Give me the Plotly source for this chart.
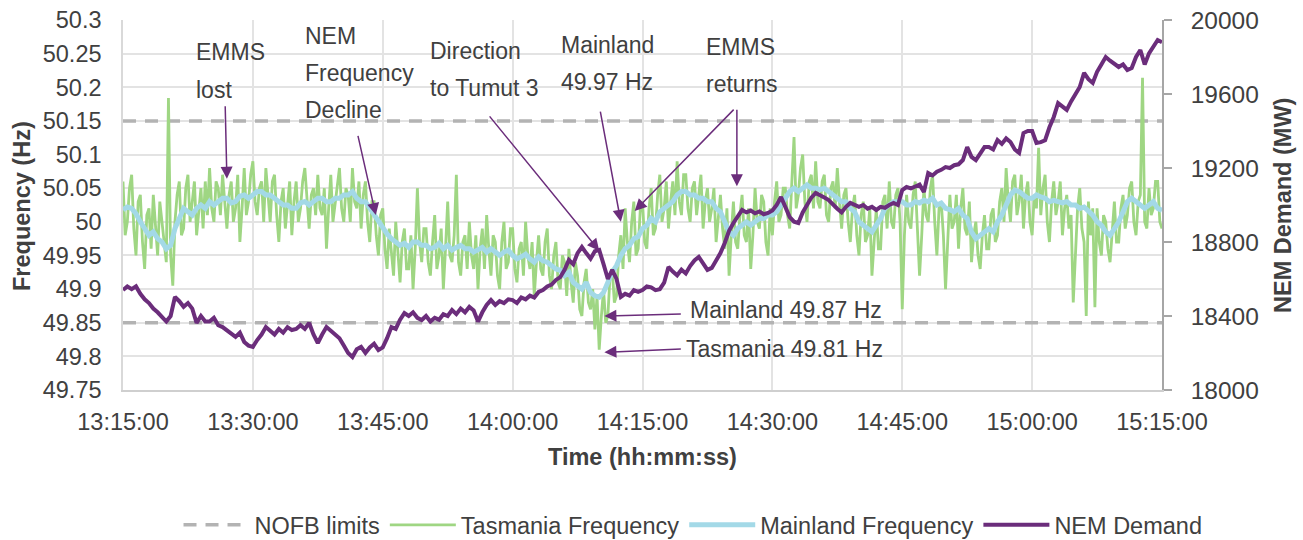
import pandas as pd
import plotly.graph_objects as go

# ---------------- data, 13:15:00 -> 15:15:00 ----------------
start_time = "2018-08-25 13:15:00"
time_30s = pd.date_range(start_time, periods=241, freq="30s")   # Mainland, NEM demand
time_15s = pd.date_range(start_time, periods=481, freq="15s")   # Tasmania

mainland_hz = [
    50.018, 50.022, 50.02, 50.012, 50.0, 49.99, 49.98, 49.985, 49.975, 49.97,
    49.96, 49.965, 49.99, 50.005, 50.02, 50.015, 50.01, 50.02, 50.025, 50.02,
    50.03, 50.025, 50.03, 50.035, 50.035, 50.028, 50.03, 50.038, 50.04, 50.035,
    50.04, 50.045, 50.045, 50.04, 50.04, 50.035, 50.03, 50.025, 50.025, 50.02,
    50.02, 50.028, 50.03, 50.025, 50.03, 50.035, 50.035, 50.03, 50.03, 50.035,
    50.035, 50.04, 50.04, 50.045, 50.035, 50.03, 50.03, 50.02, 50.01, 50.0,
    49.99, 49.982, 49.975, 49.97, 49.965, 49.968, 49.962, 49.97, 49.97, 49.965,
    49.965, 49.96, 49.962, 49.968, 49.96, 49.965, 49.958, 49.962, 49.965, 49.96,
    49.96, 49.955, 49.958, 49.962, 49.955, 49.96, 49.955, 49.95, 49.955, 49.958,
    49.95, 49.945, 49.948, 49.952, 49.945, 49.94, 49.948, 49.942, 49.94, 49.935,
    49.93, 49.928, 49.92, 49.925, 49.91, 49.905, 49.9, 49.91, 49.895, 49.89,
    49.888, 49.895, 49.91, 49.925, 49.935, 49.95, 49.96, 49.965, 49.975, 49.978,
    49.99, 49.995, 50.005, 50.0, 50.015, 50.02, 50.025, 50.03, 50.04, 50.045,
    50.045, 50.04, 50.04, 50.035, 50.035, 50.03, 50.03, 50.02, 50.015, 50.0,
    49.985, 49.98, 49.99, 49.995, 50.0, 49.995, 50.0, 50.005, 50.005, 50.01,
    50.01, 50.015, 50.025, 50.035, 50.045, 50.05, 50.045, 50.05, 50.055, 50.05,
    50.05, 50.048, 50.05, 50.045, 50.04, 50.035, 50.03, 50.03, 50.02, 50.015,
    50.0, 49.995, 49.99, 49.985, 49.995, 50.005, 50.02, 50.025, 50.03, 50.03,
    50.03, 50.025, 50.025, 50.03, 50.028, 50.032, 50.03, 50.035, 50.025, 50.028,
    50.02, 50.018, 50.015, 50.02, 50.01, 50.005, 49.985, 49.975, 49.98, 49.985,
    49.99, 49.985, 50.0, 50.01, 50.025, 50.04, 50.047, 50.045, 50.04, 50.035,
    50.035, 50.04, 50.037, 50.035, 50.03, 50.032, 50.03, 50.028, 50.03, 50.025,
    50.025, 50.02, 50.022, 50.015, 50.01, 50.0, 49.995, 49.985, 49.98, 49.99,
    50.0, 50.015, 50.03, 50.035, 50.03, 50.025, 50.02, 50.025, 50.03, 50.02,
    50.017,
]

tasmania_hz = [
    50.06, 49.98, 50.0, 50.05, 50.07, 49.99, 49.95, 50.03, 50.04, 49.97,
    49.93, 50.01, 50.02, 49.96, 50.04, 49.99, 49.95, 50.03, 50.0, 49.96,
    49.94, 50.184, 49.95, 49.905, 50.0, 50.04, 50.06, 49.98, 49.99, 50.05,
    50.07, 50.0, 50.03, 50.06, 49.98, 50.02, 50.05, 49.99, 50.06, 50.01,
    50.08, 50.02, 50.0, 50.06, 50.05, 50.01, 50.07, 50.03, 49.99, 50.04,
    50.06, 50.0, 50.02, 50.07, 49.97, 50.02, 50.08, 50.01, 50.03, 50.07,
    50.09, 50.03, 50.01, 50.05, 50.06, 50.0, 50.08, 50.04, 50.0, 50.06,
    50.07, 50.01, 49.97, 50.03, 50.05, 49.99, 50.02, 50.06, 49.98, 50.03,
    50.06, 50.0, 50.02, 50.06, 50.08, 50.03, 49.99, 50.04, 50.05, 50.01,
    50.07, 50.02, 50.01, 50.05, 49.96, 50.02, 50.07, 50.0, 50.03, 50.06,
    50.08, 50.02, 50.0, 50.05, 50.04, 50.0, 50.08, 50.03, 50.02, 50.06,
    49.99, 50.04, 50.06, 50.0, 49.97, 50.03, 50.03, 49.98, 49.95, 50.01,
    50.02, 49.96, 49.93, 49.99, 49.96, 49.92, 50.0, 49.95, 49.91, 49.97,
    49.99, 49.93, 49.93, 49.98, 49.9, 49.96, 50.05, 49.97, 49.94, 49.99,
    49.99, 49.94, 49.92, 49.97, 50.01, 49.93, 49.95, 49.99, 49.9, 49.96,
    50.03, 49.95, 49.94, 49.98, 50.07, 49.94, 49.92, 49.97, 49.98, 49.93,
    50.0, 49.95, 49.93, 49.98, 49.9, 49.96, 49.99, 49.93, 50.01, 49.96,
    49.92, 49.98, 49.97, 49.92, 49.9, 49.97, 50.0, 49.93, 49.94, 49.99,
    49.99, 49.93, 49.91, 49.96, 49.97, 49.92, 50.0, 49.95, 49.93, 49.97,
    49.89, 49.94, 49.98, 49.93, 49.92, 49.97, 49.99, 49.92, 49.9, 49.95,
    49.97, 49.91, 49.9, 49.95, 49.94, 49.89, 49.96, 49.91, 49.88, 49.94,
    49.92, 49.87, 49.86, 49.91, 49.93, 49.88, 49.87, 49.9, 49.84, 49.89,
    49.81, 49.86, 49.9, 49.85, 49.86, 49.92, 49.93, 49.88, 49.89, 49.95,
    49.98, 49.93, 50.02, 49.97, 49.94, 50.0, 50.03, 49.95, 49.96, 50.02,
    50.03, 49.97, 49.96, 50.02, 50.05, 49.98, 49.99, 50.04, 50.07, 50.0,
    50.02, 50.06, 49.99, 50.03, 50.06, 50.01, 50.09, 50.03, 50.01, 50.07,
    50.07, 50.02, 50.0, 50.05, 50.06, 50.01, 50.04, 50.07, 49.99, 50.03,
    50.05, 50.0, 50.02, 50.05, 49.97, 50.01, 50.04, 49.99, 49.96, 50.02,
    49.92, 49.98, 50.03, 49.97, 49.96, 50.01, 50.04, 49.98, 49.97, 50.02,
    49.93, 49.98, 50.05, 50.0, 49.99, 50.04, 50.03, 49.97, 49.95, 50.02,
    49.98, 50.03, 50.06, 50.0, 50.01, 50.05, 50.05, 50.01, 49.99, 50.06,
    50.126, 50.02, 50.04, 50.08, 50.1, 50.03, 50.0, 50.06, 50.07, 50.02,
    50.09, 50.03, 50.02, 50.06, 50.07, 50.01, 50.0, 50.05, 50.06, 50.02,
    50.08, 50.03, 49.99, 50.04, 50.05, 50.0, 49.97, 50.02, 50.04, 49.98,
    49.95, 50.01, 50.03, 49.97, 49.98, 50.02, 49.92, 49.97, 50.02, 49.96,
    49.96, 50.03, 50.04, 49.99, 50.06, 50.0, 49.99, 50.04, 50.05, 50.0,
    49.87, 49.98, 50.04, 50.0, 49.99, 50.04, 50.06, 49.99, 49.92, 49.98,
    50.05, 50.01, 50.0, 50.05, 50.07, 50.0, 49.95, 50.02, 50.03, 49.98,
    49.9, 49.97, 50.04, 49.99, 50.0, 50.04, 49.96, 50.02, 50.05, 49.99,
    49.98, 50.03, 49.94, 49.98, 50.0, 49.95, 49.93, 49.98, 50.01, 49.96,
    49.96, 50.01, 50.02, 49.97, 49.98, 50.03, 50.05, 50.0, 50.08, 50.03,
    50.0, 50.06, 50.07, 50.01, 50.03, 50.07, 49.99, 50.04, 50.06, 50.0,
    49.98, 50.04, 50.02, 50.11, 50.01, 50.05, 50.07, 50.0, 49.97, 50.03,
    50.06, 50.01, 50.03, 50.06, 49.98, 50.02, 50.04, 49.99, 50.01, 49.88,
    49.96, 50.02, 50.05, 49.99, 49.97, 49.86, 50.03, 49.98, 50.02, 49.873,
    50.02, 49.97, 49.95, 50.01, 50.0, 49.96, 49.94, 49.99, 50.03, 49.97,
    49.97, 50.02, 50.04, 49.99, 50.01, 50.05, 50.06, 50.0, 49.98, 50.03,
    50.04, 50.214, 50.0, 49.99, 50.05, 50.01, 50.02, 50.06, 50.06, 50.0,
    49.99,
]

nem_demand_mw = [
    18540, 18560, 18545, 18560, 18520, 18490, 18470, 18440, 18420, 18395,
    18370, 18400, 18503, 18480, 18450, 18470, 18440, 18362, 18400, 18370,
    18370, 18390, 18350, 18340, 18320, 18300, 18287, 18310, 18260, 18240,
    18233, 18270, 18300, 18340, 18320, 18300, 18330, 18310, 18340, 18324,
    18330, 18350, 18330, 18362, 18300, 18254, 18300, 18340, 18320, 18300,
    18280, 18240, 18200, 18178, 18220, 18233, 18200, 18230, 18250, 18216,
    18230, 18280, 18340, 18330, 18380, 18416, 18400, 18420, 18390, 18378,
    18400, 18370, 18390, 18380, 18410, 18400, 18432, 18410, 18440, 18420,
    18449, 18430, 18370, 18420, 18460, 18486, 18460, 18480, 18470, 18490,
    18486, 18470, 18500, 18490, 18510, 18500, 18530, 18540, 18560, 18570,
    18595, 18610, 18650, 18703, 18680, 18740, 18773, 18740, 18710, 18750,
    18757, 18680, 18600, 18649, 18600, 18503, 18520, 18510, 18540, 18530,
    18540, 18560, 18555, 18540, 18545, 18580, 18665, 18640, 18620, 18650,
    18630, 18670, 18700, 18719, 18680, 18649, 18660, 18700, 18740, 18795,
    18860, 18903, 18940, 18973, 18960, 18970, 18955, 18965, 18950, 18957,
    18970, 19000, 19043, 18990, 18935, 18910, 18903, 18960, 19000, 19040,
    19065, 19050, 19040, 19027, 19000, 18980, 18960, 18990, 19011, 19000,
    18990, 19000, 18980, 18990, 18973, 18990, 18985, 19000, 19011, 19000,
    19081, 19097, 19090, 19100, 19110, 19070, 19173, 19160, 19180, 19190,
    19205, 19200, 19215, 19220, 19243, 19313, 19260, 19243, 19280, 19313,
    19313, 19300, 19351, 19330, 19360, 19340, 19300, 19281, 19389, 19400,
    19400, 19335, 19340, 19350, 19420, 19476, 19551, 19530, 19514, 19560,
    19600, 19638, 19714, 19680, 19660, 19720, 19760, 19800, 19780, 19760,
    19746, 19760, 19730, 19740, 19800, 19838, 19760, 19820, 19860, 19892,
    19880,
]

nofb_lower = 49.85
nofb_upper = 50.15

x_ticks = ["13:15:00", "13:30:00", "13:45:00", "14:00:00", "14:15:00",
           "14:30:00", "14:45:00", "15:00:00", "15:15:00"]

series_names = ["NOFB limits", "Tasmania Frequency", "Mainland Frequency",
                "NEM Demand"]
axis_titles = {"x": "Time (hh:mm:ss)", "y": "Frequency (Hz)",
               "y2": "NEM Demand (MW)"}

# ---------------- styling ----------------
TXT = "#404040"
FONT = "Liberation Sans, Arial, sans-serif"
GREEN = "#9fd683"
BLUE = "#a3d9e7"
PURPLE = "#6b2d7b"
GREY = "#b3b3b3"
ARROW = "#6b2d7b"
FS = 23.5

day = start_time[:10]
t0 = pd.Timestamp(time_30s[0])
t1 = pd.Timestamp(time_30s[-1])

fig = go.Figure()

fig.add_trace(go.Scatter(
    x=[t0, t1, None, t0, t1],
    y=[nofb_upper, nofb_upper, None, nofb_lower, nofb_lower],
    mode="lines", name=series_names[0],
    line=dict(color=GREY, width=3.5, dash="13px,9px"),
    connectgaps=False, hoverinfo="skip",
))
fig.add_trace(go.Scatter(
    x=time_15s, y=tasmania_hz, mode="lines", name=series_names[1],
    line=dict(color=GREEN, width=2.8),
))
fig.add_trace(go.Scatter(
    x=time_30s, y=mainland_hz, mode="lines", name=series_names[2],
    line=dict(color=BLUE, width=5),
))
fig.add_trace(go.Scatter(
    x=time_30s, y=nem_demand_mw, mode="lines", name=series_names[3],
    line=dict(color=PURPLE, width=4), yaxis="y2",
))

# ---------------- annotations ----------------
PL, PR, PT, PB = 123, 1162, 20, 390


def px2paper(px, py):
    return (px - PL) / (PR - PL), (PB - py) / (PB - PT)


labels = [
    ("EMMS", 194, 52), ("lost", 194, 90),
    ("NEM", 303, 36), ("Frequency", 303, 73), ("Decline", 303, 110),
    ("Direction", 428, 51), ("to Tumut 3", 428, 88),
    ("Mainland", 559, 45), ("49.97 Hz", 559, 82),
    ("EMMS", 704, 47), ("returns", 704, 84),
    ("Mainland 49.87 Hz", 688, 310),
    ("Tasmania 49.81 Hz", 684, 349),
]
annotations = []
for txt, px, py in labels:
    xp, yp = px2paper(px, py)
    annotations.append(dict(
        text=txt, x=xp, y=yp, xref="paper", yref="paper",
        xanchor="left", yanchor="middle", showarrow=False,
        font=dict(family=FONT, size=23, color=TXT),
    ))

# axis titles (placed explicitly)
for key, px, py, ang in [("y", 22, 206, -90), ("y2", 1283, 206, -90),
                         ("x", 642, 457, 0)]:
    xp, yp = px2paper(px, py)
    annotations.append(dict(
        text=f"<b>{axis_titles[key]}</b>", x=xp, y=yp,
        xref="paper", yref="paper", xanchor="center", yanchor="middle",
        textangle=ang, showarrow=False,
        font=dict(family=FONT, size=FS, color=TXT),
    ))


def tm(minute):
    return t0 + pd.Timedelta(minutes=minute)


# (tail minute, tail Hz, head minute, head Hz)
arrows = [
    (11.8, 50.174, 12.0, 50.064),
    (27.1, 50.130, 29.2, 50.010),
    (42.2, 50.159, 55.0, 49.957),
    (55.1, 50.166, 57.5, 50.000),
    (70.7, 50.169, 59.1, 50.016),
    (70.9, 50.169, 70.9, 50.053),
    (64.6, 49.863, 55.6, 49.860),
    (64.6, 49.811, 55.6, 49.806),
]
for ta, ya, th, yh in arrows:
    annotations.append(dict(
        text="", x=tm(th), y=yh, xref="x", yref="y",
        ax=tm(ta), ay=ya, axref="x", ayref="y",
        showarrow=True, arrowhead=2, arrowsize=1.6, arrowwidth=1.5,
        arrowcolor=ARROW, standoff=0, startstandoff=0,
    ))

tick_vals = [pd.Timestamp(f"{day} {t}") for t in x_ticks]

fig.update_layout(
    width=1303, height=540,
    margin=dict(l=PL, r=1303 - PR, t=PT, b=540 - PB, autoexpand=False),
    paper_bgcolor="white", plot_bgcolor="white",
    font=dict(family=FONT, size=FS, color=TXT),
    showlegend=True,
    legend=dict(orientation="h", xref="container", x=0.137,
                y=-0.365, xanchor="left", yanchor="middle",
                font=dict(size=FS, color=TXT),
                itemwidth=66, tracegroupgap=0),
    annotations=annotations,
    xaxis=dict(
        range=[t0, t1], tickvals=tick_vals, ticktext=x_ticks,
        showgrid=True, gridcolor="#e3e3e3", gridwidth=1.5,
        showline=True, linecolor="#cfcfcf", linewidth=1.5,
        ticks="", ticklabelstandoff=10, automargin=False,
        tickfont=dict(size=FS, color=TXT),
    ),
    yaxis=dict(
        range=[49.75, 50.3], dtick=0.05, tick0=49.75,
        showgrid=True, gridcolor="#e3e3e3", gridwidth=1.5,
        showline=True, linecolor="#d9d9d9", linewidth=1.5,
        zeroline=False, ticks="", ticklabelstandoff=15, automargin=False,
        tickfont=dict(size=FS, color=TXT),
    ),
    yaxis2=dict(
        range=[18000, 20000], dtick=400, tick0=18000, tickformat="d",
        overlaying="y", side="right", showgrid=False, zeroline=False,
        showline=True, linecolor="#a6a6a6", linewidth=1.5,
        ticks="outside", ticklen=8, tickcolor="#a6a6a6", tickwidth=1.5,
        ticklabelstandoff=14, automargin=False,
        tickfont=dict(size=24.5, color=TXT),
    ),
)

fig.write_html("out.html", config={"displayModeBar": False},
               post_script="document.body.style.margin='0px';")
